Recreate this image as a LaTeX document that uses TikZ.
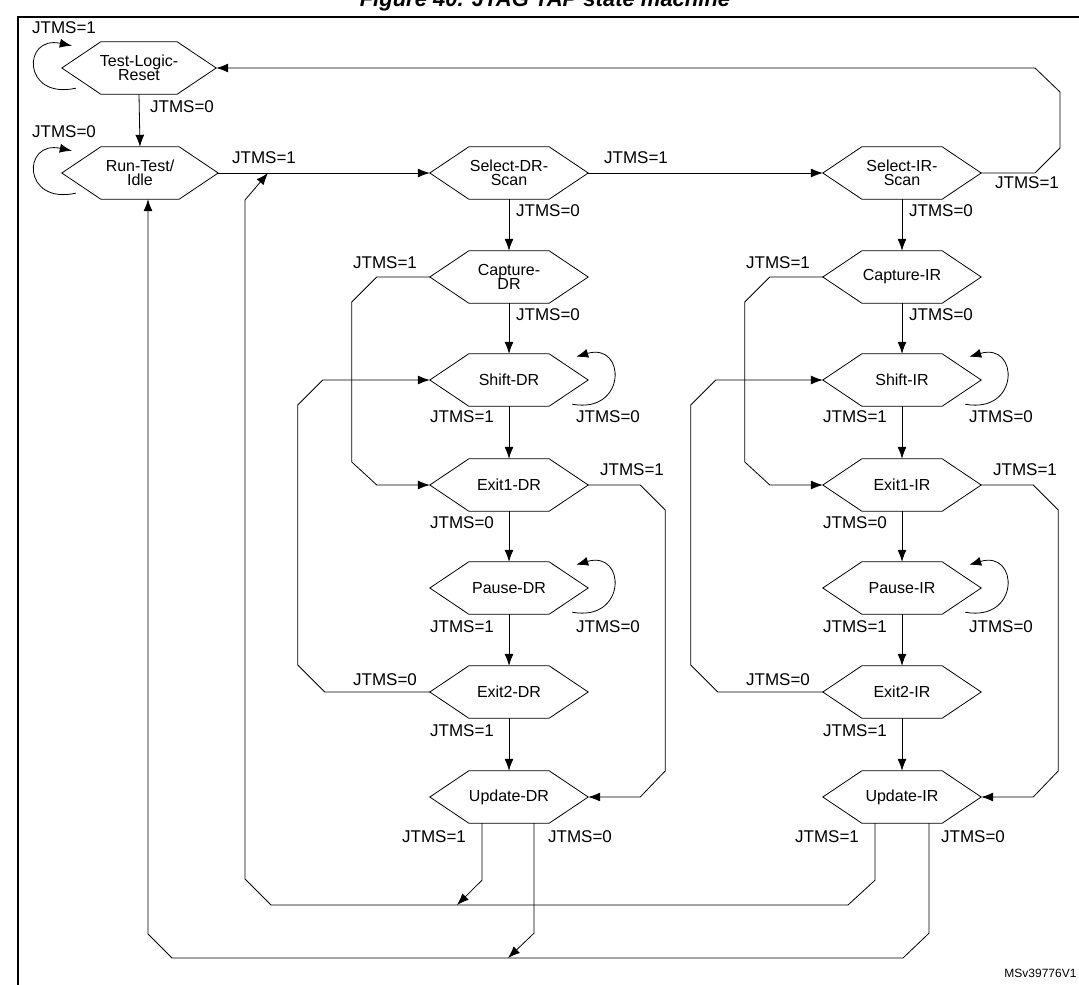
\documentclass[tikz,border=0pt]{standalone}
\usepackage{fontspec}
\setmainfont{Liberation Sans}
\usetikzlibrary{arrows.meta}
\tikzset{
  hexbox/.style={minimum width=158pt,minimum height=52pt,inner sep=0pt,align=center,font=\fontsize{16}{16}\selectfont},
  hexline/.style={draw,line width=0.8pt},
  arr/.style={draw,line width=0.8pt,-{Latex[length=12pt,width=9pt]}},
  lab/.style={font=\fontsize{17}{17}\selectfont,inner sep=0pt},
}
\newcommand\hexnode[5][158pt]{\node[hexbox,minimum width=#1] (#2) at (#3,#4) {#5};
  \draw[hexline] (#2.west) -- ([xshift=39pt]#2.north west) -- ([xshift=-39pt]#2.north east) -- (#2.east) -- ([xshift=-39pt]#2.south east) -- ([xshift=39pt]#2.south west) -- cycle;}
\begin{document}
\begin{tikzpicture}[x=1pt,y=-1pt]
\useasboundingbox (0,0) rectangle (1079,985);
\node[font=\fontsize{22}{22}\selectfont\bfseries\itshape,anchor=base] (title) at (545,6) {Figure 40. JTAG TAP state machine};
\draw[line width=1.3pt] (18,17) rectangle (1095,1000);
\node[font=\fontsize{12}{12}\selectfont,anchor=east] (ms) at (1080,973) {MSv39776V1};
% nodes
\hexnode[154pt]{tlr}{139}{68}{Test-Logic-\\[-2pt]Reset}
\hexnode[156pt]{rti}{140}{173}{Run-Test/\\[-2pt]Idle}
\hexnode{sdr}{509}{173}{Select-DR-\\[-2pt]Scan}
\hexnode{cdr}{509}{277}{Capture-\\[-2pt]DR}
\hexnode{shdr}{509}{380}{Shift-DR}
\hexnode{eadr}{509}{485}{Exit1-DR}
\hexnode{pdr}{509}{588}{Pause-DR}
\hexnode{ebdr}{509}{692}{Exit2-DR}
\hexnode{udr}{509}{797}{Update-DR}
\hexnode{sir}{902}{173}{Select-IR-\\[-2pt]Scan}
\hexnode{cir}{902}{277}{Capture-IR}
\hexnode{shir}{902}{380}{Shift-IR}
\hexnode{eair}{902}{485}{Exit1-IR}
\hexnode{pir}{902}{588}{Pause-IR}
\hexnode{ebir}{902}{692}{Exit2-IR}
\hexnode{uir}{902}{797}{Update-IR}
% self loops
\draw[arr] ([shift={(14pt,6pt)}]tlr.south west) .. controls (22,100) and (22,35) .. ([shift={(10pt,-4pt)}]tlr.north west);
\node[lab] (l1) at (64,28) {JTMS=1};
\draw[arr] ([shift={(14pt,6pt)}]rti.south west) .. controls (22,205) and (22,140) .. ([shift={(10pt,-4pt)}]rti.north west);
\node[lab] (l2) at (64,132) {JTMS=0};
\foreach \s in {shdr,pdr,shir,pir}{
  \draw[arr] ([shift={(-16pt,2pt)}]\s.south east) .. controls +(55pt,-10pt) and +(50pt,15pt) .. ([shift={(-12pt,-3pt)}]\s.north east);
}
% main flow
\draw[arr] (tlr.south) -- (rti.north);
\node[lab] (l3) at (182,107) {JTMS=0};
\draw[arr] (rti.east) -- (sdr.west);
\node[lab] (l4) at (264,158) {JTMS=1};
\draw[arr] (sdr.east) -- (sir.west);
\node[lab] (l5) at (636,158) {JTMS=1};
\draw[arr] (sir.east) -- (1035,173) -- (1060,148) -- (1060,92) -- (1035,68) -- (tlr.east);
\node[lab] (l6) at (1027,183) {JTMS=1};
\foreach \a/\b in {sdr/cdr,cdr/shdr,shdr/eadr,eadr/pdr,pdr/ebdr,ebdr/udr,sir/cir,cir/shir,shir/eair,eair/pir,pir/ebir,ebir/uir}{
  \draw[arr] (\a.south) -- (\b.north);
}
\foreach \X/\c/\sh/\ea/\eb/\u in {0/cdr/shdr/eadr/ebdr/udr,393/cir/shir/eair/ebir/uir}{
  \begin{scope}[xshift=\X pt]
  \node[lab] at (548,211) {JTMS=0};
  \node[lab] at (548,315) {JTMS=0};
  \node[lab] at (385,263) {JTMS=1};
  \node[lab] at (462,417) {JTMS=1};
  \node[lab] at (608,417) {JTMS=0};
  \node[lab] at (632,470) {JTMS=1};
  \node[lab] at (462,523) {JTMS=0};
  \node[lab] at (462,627) {JTMS=1};
  \node[lab] at (608,627) {JTMS=0};
  \node[lab] at (385,680) {JTMS=0};
  \node[lab] at (462,731) {JTMS=1};
  \node[lab] at (434,837) {JTMS=1};
  \node[lab] at (580,837) {JTMS=0};
  \end{scope}
  \draw[arr] (\c.west) -- ([xshift=-53pt]\c.west) -- ([shift={(-78pt,-25pt)}]\c.west) -- ([shift={(-78pt,23pt)}]\ea.west) -- ([xshift=-53pt]\ea.west) -- (\ea.west);
  \draw[arr] (\eb.west) -- ([xshift=-105pt]\eb.west) -- ([shift={(-132pt,27pt)}]\eb.west) -- ([shift={(-132pt,-25pt)}]\sh.west) -- ([xshift=-107pt]\sh.west) -- (\sh.west);
  \draw[arr] (\ea.east) -- ([xshift=52pt]\ea.east) -- ([shift={(77pt,-25pt)}]\ea.east) -- ([shift={(77pt,26pt)}]\u.east) -- ([xshift=52pt]\u.east) -- (\u.east);
}
% returns
\coordinate (j1) at (457,905);
\coordinate (j2) at (508,958);
\coordinate (r1) at (268,173);
\draw[arr] ([xshift=-27pt]udr.south) -- ++(0,57) -- (j1);
\draw[arr] ([xshift=25pt]udr.south) -- ++(0,110) -- (j2);
\draw[arr] ([xshift=-27pt]uir.south) -- ++(0,57) -- (848,905) -- (271,905) -- (245,879) -- (245,200) -- (r1);
\draw[arr] ([xshift=27pt]uir.south) -- ++(0,110) -- (903,958) -- (172,958) -- (148,934) -- ([xshift=8pt]rti.south);
\end{tikzpicture}
\end{document}
